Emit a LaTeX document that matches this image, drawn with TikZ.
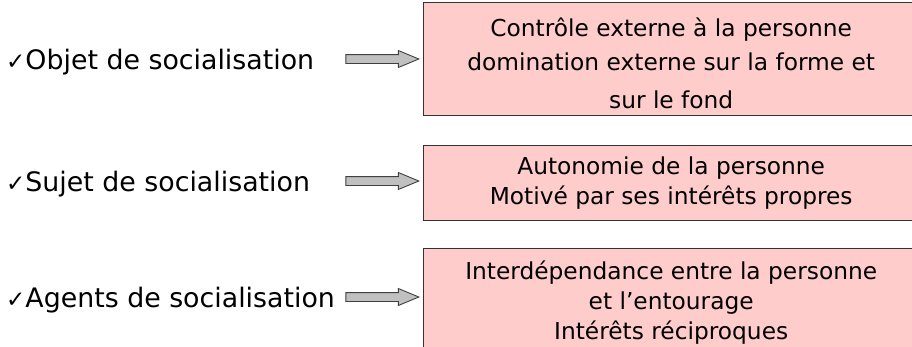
\documentclass[tikz,border=0pt]{standalone}
\usepackage{fontspec}
\setmainfont{DejaVu Sans}
\usetikzlibrary{shapes.arrows,positioning}
\definecolor{boxpink}{HTML}{FFCCCC}
\definecolor{arrowgray}{HTML}{C0C0C0}
\newcommand{\tick}{{\fontsize{23}{26}\selectfont ✓}}
\tikzset{
  label/.style={anchor=base west, inner sep=0pt, font=\fontsize{26.8}{30}\selectfont},
  pinkbox/.style={draw=black!80, line width=1.4pt, fill=boxpink, anchor=north west,
    minimum width=495pt, align=center, inner sep=0pt,
    font=\fontsize{23.3}{30}\selectfont},
  fatarrow/.style={single arrow, draw=black!75, line width=0.9pt, fill=arrowgray,
    inner sep=4pt, minimum width=16pt, single arrow head extend=4pt,
    single arrow tip angle=45, minimum height=73pt, anchor=east}
}
\begin{document}
\begin{tikzpicture}[x=1pt,y=1pt]
			\useasboundingbox (0,0) rectangle (912,-346);
			% left column
			\node[label] (objet) at (6,-69) {\tick Objet de socialisation};
			\node[label] (sujet) at (6,-191) {\tick Sujet de socialisation};
			\node[label] (agents) at (6,-307) {\tick Agents de socialisation};
			% boxes
			\node[pinkbox, minimum height=113pt, font=\fontsize{23.3}{34}\selectfont] (externe) at (423,-2)
				{\rule{0pt}{27pt}Contrôle externe à la personne\\domination externe sur la forme et\\[4pt]sur le fond};
			\node[pinkbox, minimum height=75pt] (autonomie) at (423,-145)
				{Autonomie de la personne\\Motivé par ses intérêts propres};
			\node[pinkbox, minimum height=108pt] (interdep) at (423,-248)
				{Interdépendance entre la personne\\et l’entourage\\Intérêts réciproques};
			% arrows
			\node[fatarrow] (arr1) at (420,-59) {};
			\node[fatarrow] (arr2) at (420,-181) {};
			\node[fatarrow] (arr3) at (420,-297) {};
	\end{tikzpicture}
\end{document}
